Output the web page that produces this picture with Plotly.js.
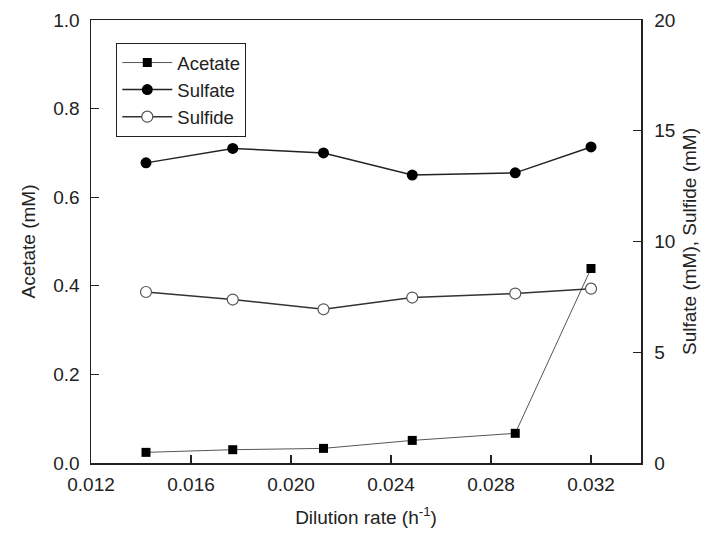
<!DOCTYPE html>
<html>
<head>
<meta charset="utf-8">
<script src="https://cdn.plot.ly/plotly-3.0.1.min.js"></script>
<style>html,body{margin:0;padding:0;background:#fff;}#chart{width:707px;height:542px;}</style>
</head>
<body>
<div id="chart"></div>
<script>
const dilutionRate = [0.0142, 0.01767, 0.0213, 0.02485, 0.02897, 0.032];
const acetate = [0.024, 0.030, 0.033, 0.051, 0.067, 0.439];
const sulfate = [13.55, 14.2, 14.0, 13.0, 13.1, 14.27];
const sulfide = [7.72, 7.38, 6.94, 7.47, 7.65, 7.87];

const fontFam = 'Liberation Sans, Arial, sans-serif';
const traces = [
  {x: dilutionRate, y: acetate, name: 'Acetate', type: 'scatter', mode: 'lines+markers',
   line: {color: '#555', width: 1}, marker: {symbol: 'square', size: 9, color: '#000'}},
  {x: dilutionRate, y: sulfate, name: 'Sulfate', type: 'scatter', mode: 'lines+markers', yaxis: 'y2',
   line: {color: '#222', width: 1.5}, marker: {symbol: 'circle', size: 11, color: '#000'}},
  {x: dilutionRate, y: sulfide, name: 'Sulfide', type: 'scatter', mode: 'lines+markers', yaxis: 'y2',
   line: {color: '#333', width: 1.5}, marker: {symbol: 'circle', size: 11, color: '#fff', line: {color: '#555', width: 1.2}}}
];
const layout = {
  width: 707, height: 542,
  margin: {l: 91, r: 66, t: 20, b: 79},
  paper_bgcolor: '#fff', plot_bgcolor: '#fff',
  font: {family: fontFam, size: 19, color: '#222'},
  showlegend: true,
  legend: {x: 0.046, y: 0.948, xanchor: 'left', yanchor: 'top', bordercolor: '#222', borderwidth: 1,
           bgcolor: '#fff', font: {size: 18.5, family: fontFam}, tracegroupgap: 0, itemwidth: 50},
  xaxis: {range: [0.012, 0.034], dtick: 0.004, tick0: 0.012, tickformat: '.3f',
          showline: true, linecolor: '#222', linewidth: 1.5, mirror: true,
          ticks: 'inside', ticklen: 8, tickcolor: '#222', tickwidth: 1.2, showgrid: false, zeroline: false,
          ticklabelstandoff: 4,
          title: {text: 'Dilution rate (h<sup>-1</sup>)', standoff: 16, font: {size: 19}}},
  yaxis: {range: [0, 1], dtick: 0.2, tickformat: '.1f',
          showline: true, linecolor: '#222', linewidth: 1.5,
          ticks: 'inside', ticklen: 8, tickcolor: '#222', tickwidth: 1.2, showgrid: false, zeroline: false,
          ticklabelstandoff: 6,
          title: {text: 'Acetate (mM)', standoff: 12, font: {size: 19}}},
  yaxis2: {range: [0, 20], dtick: 5, overlaying: 'y', side: 'right',
          showline: true, linecolor: '#222', linewidth: 1.5,
          ticks: 'inside', ticklen: 8, tickcolor: '#222', tickwidth: 1.2, showgrid: false, zeroline: false,
          ticklabelstandoff: 8,
          title: {text: 'Sulfate (mM), Sulfide (mM)', standoff: 8, font: {size: 19}}}
};
Plotly.newPlot('chart', traces, layout, {displayModeBar: false, staticPlot: true});
</script>
</body>
</html>
